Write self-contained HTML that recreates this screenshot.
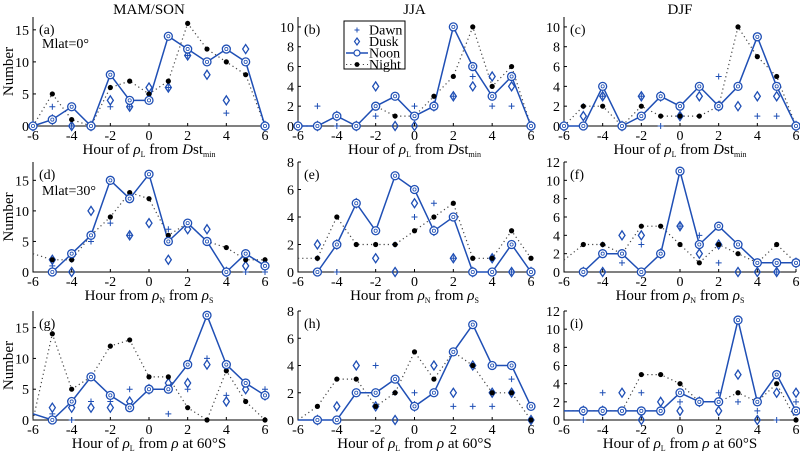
<!DOCTYPE html>
<html><head><meta charset="utf-8"><style>
html,body{margin:0;padding:0;background:#fff;}
svg{display:block;font-family:"Liberation Serif",serif;}
</style></head><body>
<svg id="chart" width="800" height="454" viewBox="0 0 800 454" xmlns="http://www.w3.org/2000/svg"></svg>
<script>
const hours = [-6,-5,-4,-3,-2,-1,0,1,2,3,4,5,6];
const xTicks = [-6,-4,-2,0,2,4,6];
const N = null;
// Panel (a)
const aNoon  = [0,1,3,0,8,4,4,14,12,10,12,10,0];
const aNight = [0,5,1,0,6,7,5,7,16,12,10,8,0];
const aDusk  = [0,1,0,0,4,3,6,6,11,8,4,12,0];
const aDawn  = [0,3,0,0,3,3,5,6,11,N,2,N,0];
// Panel (b)
const bNoon  = [0,0,1,0,2,3,1,2,10,6,3,5,0];
const bNight = [0,0,1,0,2,1,1,3,5,10,4,6,0];
const bDusk  = [0,0,1,0,4,0,0,2,3,4,5,4,0];
const bDawn  = [0,2,0,0,1,N,2,2,3,5,2,2,0];
// Panel (c)
const cNoon  = [0,0,4,0,1,3,2,4,2,4,9,4,0];
const cNight = [0,2,2,0,2,1,1,1,2,10,7,5,0];
const cDusk  = [0,1,3,0,3,3,1,3,2,2,3,3,0];
const cDawn  = [0,2,3,0,3,0,1,4,5,4,1,1,0];
// Panel (d)
const dNoon  = [N,0,3,6,15,12,16,5,8,5,0,3,1];
const dNight = [3,2,2,6,9,13,12,6,8,5,4,2,2];
const dDusk  = [N,2,0,10,N,6,8,2,7,7,0,1,1];
const dDawn  = [N,1,2,5,8,6,N,7,8,5,0,0,0];
// Panel (e)
const eNoon  = [N,0,2,5,3,7,6,3,4,0,0,2,0];
const eNight = [1,1,4,2,2,2,3,4,5,1,1,3,1];
const eDusk  = [N,2,2,5,1,0,5,3,1,0,1,0,0];
const eDawn  = [N,1,0,5,3,2,4,5,1,0,1,0,0];
// Panel (f)
const fNoon  = [N,0,2,2,0,2,11,3,5,3,1,1,1];
const fNight = [1.3,3,3,2,5,5,3,1,3,2,1,3,1];
const fDusk  = [N,0,0,4,4,2,5,2,3,0,0,0,1];
const fDawn  = [N,0,3,1,3,2,5,4,1,3,1,0,1];
// Panel (g)
const gNoon  = [1,0,3,7,4,2,5,5,9,17,9,6,4];
const gNight = [0,14,5,7,12,13,7,7,2,0,8,3,0];
const gDusk  = [N,2,2,2,2,3,5,6,6,9,3,5,4];
const gDawn  = [N,1,0,3,3,5,5,1,5,10,4,6,5];
// Panel (h)
const hNoon  = [0,0,0,2,2,3,1,2,5,7,4,4,1];
const hNight = [0,1,3,3,1,2,5,3,5,4,2,2,0];
const hDusk  = [N,0,1,4,1,0,1,4,2,4,2,2,0];
const hDawn  = [N,0,N,N,4,2,2,2,1,1,1,3,0];
// Panel (i)
const iNoon  = [1,1,1,1,1,1,3,2,2,11,2,5,1];
const iNight = [1,1,1,1,5,5,4,2,2,3,2,4,0];
const iDusk  = [N,1,1,3,0,2,1,2,1,5,0,3,3];
const iDawn  = [N,0,3,1,3,1,2,2,3,2,1,0,2];

const svg = document.getElementById('chart');
const NS = 'http://www.w3.org/2000/svg';
const BLUE = '#1f4fb5';
function mk(tag, attrs, parent){
  const e = document.createElementNS(NS, tag);
  for (const k in attrs) e.setAttribute(k, attrs[k]);
  (parent||svg).appendChild(e);
  return e;
}
const cols = [[33,265],[298,531],[564,796]];
const rows = [[17,126],[162,272],[311,420]];
const panels = [
  {id:'a',col:0,row:0,max:17,ticks:[0,5,10,15],noon:aNoon,night:aNight,dusk:aDusk,dawn:aDawn},
  {id:'b',col:1,row:0,max:11,ticks:[0,2,4,6,8,10],noon:bNoon,night:bNight,dusk:bDusk,dawn:bDawn},
  {id:'c',col:2,row:0,max:11,ticks:[0,2,4,6,8,10],noon:cNoon,night:cNight,dusk:cDusk,dawn:cDawn},
  {id:'d',col:0,row:1,max:18,ticks:[0,5,10,15],noon:dNoon,night:dNight,dusk:dDusk,dawn:dDawn},
  {id:'e',col:1,row:1,max:8,ticks:[0,2,4,6,8],noon:eNoon,night:eNight,dusk:eDusk,dawn:eDawn},
  {id:'f',col:2,row:1,max:12,ticks:[0,2,4,6,8,10,12],noon:fNoon,night:fNight,dusk:fDusk,dawn:fDawn},
  {id:'g',col:0,row:2,max:17.7,ticks:[0,5,10,15],noon:gNoon,night:gNight,dusk:gDusk,dawn:gDawn},
  {id:'h',col:1,row:2,max:8,ticks:[0,2,4,6,8],noon:hNoon,night:hNight,dusk:hDusk,dawn:hDawn},
  {id:'i',col:2,row:2,max:12,ticks:[0,2,4,6,8,10,12],noon:iNoon,night:iNight,dusk:iDusk,dawn:iDawn}
];
const titles = ['MAM/SON','JJA','DJF'];
titles.forEach((t,i)=>{
  const e = mk('text',{x:(cols[i][0]+cols[i][1])/2,y:14,'text-anchor':'middle','font-size':15});
  e.textContent = t;
  
  
});

function xlabel(g, cx, y, row){
  const t = mk('text',{x:cx,y:y,'text-anchor':'middle','font-size':15},g);
  
  
  const parts = row===0 ? [['Hour of ',{}],['ρ',{'font-style':'italic'}],['L',{'font-size':8,dy:3}],[' from ',{dy:-3}],['D',{'font-style':'italic'}],['st',{}],['min',{'font-size':8,dy:3}]]
    : row===1 ? [['Hour from ',{}],['ρ',{'font-style':'italic'}],['N',{'font-size':8,dy:3}],[' from ',{dy:-3}],['ρ',{'font-style':'italic'}],['S',{'font-size':8,dy:3}]]
    : [['Hour of ',{}],['ρ',{'font-style':'italic'}],['L',{'font-size':8,dy:3}],[' from ',{dy:-3}],['ρ',{'font-style':'italic'}],[' at 60°S',{}]];
  parts.forEach(p=>{const s = mk('tspan',p[1],t); s.textContent = p[0];});
}

panels.forEach(p=>{
  const [x0,x1] = cols[p.col], [y0,y1] = rows[p.row];
  const g = mk('g',{});
  
  
  const xs = v => x0 + (v+6)/12*(x1-x0);
  const ys = v => y1 - v/p.max*(y1-y0);
  const ax = mk('path',{d:`M${x0},${y0}V${y1}H${x1}`,fill:'none',stroke:'#000','stroke-width':1},g);
  
  
  xTicks.forEach(v=>{
    mk('line',{x1:xs(v),x2:xs(v),y1:y1,y2:y1-3,stroke:'#000'},g);
    const t = mk('text',{x:xs(v),y:y1+14,'text-anchor':'middle','font-size':14},g);
    t.textContent = v;
    
    
  });
  p.ticks.forEach(v=>{
    mk('line',{x1:x0,x2:x0+3,y1:ys(v),y2:ys(v),stroke:'#000'},g);
    const t = mk('text',{x:x0-4,y:ys(v)+5,'text-anchor':'end','font-size':14},g);
    t.textContent = v;
    
    
  });
  const lab = mk('text',{x:x0+6,y:y0+17,'font-size':14},g);
  lab.textContent = '('+p.id+')';
  
  
  if (p.col===0){
    const yl = mk('text',{x:0,y:0,'text-anchor':'middle','font-size':15,transform:`translate(13,${(y0+y1)/2}) rotate(-90)`},g);
    yl.textContent = 'Number';
    
    
  }
  xlabel(g,(x0+x1)/2,y1+28,p.row);
  function line(arr, attrs, name){
    let d = '', pen = false;
    arr.forEach((v,i)=>{ if (v===null){pen=false;return;} d += (pen?'L':'M')+xs(hours[i]).toFixed(1)+','+ys(v).toFixed(1); pen=true; });
    const l = mk('path', Object.assign({d:d,fill:'none'},attrs), g);
    
    
  }
  line(p.night,{stroke:'#444','stroke-width':1.2,'stroke-dasharray':'1.2,3'},'night-line');
  line(p.noon,{stroke:BLUE,'stroke-width':1.5},'noon-line');
  p.dawn.forEach((v,i)=>{ if(v===null) return;
    const m = mk('path',{d:`M${xs(hours[i])-3},${ys(v)}h6M${xs(hours[i])},${ys(v)-3}v6`,stroke:BLUE,'stroke-width':1},g);
    
    
  });
  p.dusk.forEach((v,i)=>{ if(v===null) return;
    const cx = xs(hours[i]), cy = ys(v);
    const m = mk('path',{d:`M${cx},${cy-4.5}L${cx+3},${cy}L${cx},${cy+4.5}L${cx-3},${cy}Z`,fill:'none',stroke:BLUE,'stroke-width':1.3},g);
    
    
  });
  p.night.forEach((v,i)=>{ if(v===null) return;
    if (p.row>=1 && i===0) return;
    const m = mk('circle',{cx:xs(hours[i]),cy:ys(v),r:2.6,fill:'#000'},g);
    
    
  });
  p.noon.forEach((v,i)=>{ if(v===null) return;
    if (p.row===2 && i===0) return;
    const m = mk('circle',{cx:xs(hours[i]),cy:ys(v),r:4,fill:'#fff',stroke:BLUE,'stroke-width':1.3},g);
    
    
    mk('circle',{cx:xs(hours[i]),cy:ys(v),r:1.6,fill:'none',stroke:BLUE,'stroke-width':0.8},g);
  });
});

const lg = mk('g',{});


mk('rect',{x:344,y:21,width:61,height:48,fill:'#fff',stroke:'#000','stroke-width':1},lg);
const entries = ['Dawn','Dusk','Noon','Night'];
entries.forEach((n,k)=>{
  const y = 30 + k*11.5;
  const cx = 357;
  if (n==='Dawn') mk('path',{d:`M${cx-2.5},${y}h5M${cx},${y-2.5}v5`,stroke:BLUE},lg);
  if (n==='Dusk') mk('path',{d:`M${cx},${y-3.5}L${cx+2.5},${y}L${cx},${y+3.5}L${cx-2.5},${y}Z`,fill:'none',stroke:BLUE,'stroke-width':1.2},lg);
  if (n==='Noon'){ mk('line',{x1:346,x2:368,y1:y,y2:y,stroke:BLUE,'stroke-width':1.5},lg); mk('circle',{cx:cx,cy:y,r:3,fill:'#fff',stroke:BLUE,'stroke-width':1.2},lg); }
  if (n==='Night'){ mk('line',{x1:346,x2:368,y1:y,y2:y,stroke:'#444','stroke-dasharray':'1.2,3'},lg); mk('circle',{cx:cx,cy:y,r:2.4,fill:'#000'},lg); }
  const t = mk('text',{x:369,y:y+4.5,'font-size':14},lg);
  t.textContent = n;
  
  
});
[['Mlat=0°',48],['Mlat=30°',195]].forEach(a=>{
  const t = mk('text',{x:42,y:a[1],'font-size':14});
  t.textContent = a[0];
  
  
});
</script>
</body></html>
